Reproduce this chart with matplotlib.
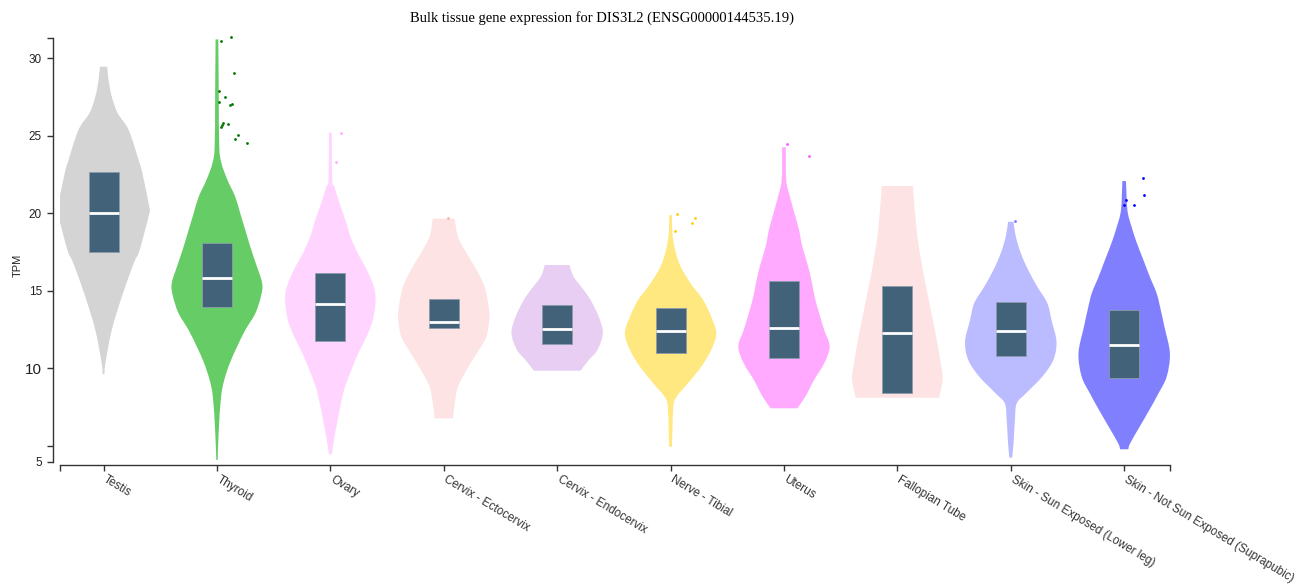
import numpy as np
import matplotlib
matplotlib.use("Agg")
import matplotlib.pyplot as plt
import matplotlib.transforms as mtransforms
from matplotlib.path import Path
from matplotlib.patches import PathPatch

# tissues, left to right
TISSUES = ["Testis", "Thyroid", "Ovary", "Cervix - Ectocervix", "Cervix - Endocervix",
           "Nerve - Tibial", "Uterus", "Fallopian Tube",
           "Skin - Sun Exposed (Lower leg)", "Skin - Not Sun Exposed (Suprapubic)"]

FILL = ["#d4d4d4", "#66cc66", "#ffd4ff", "#fde3e3", "#e8cef3",
        "#ffe880", "#ffaaff", "#fde3e3", "#bbbbff", "#8080ff"]
DOT = ["#888888", "#007700", "#ffaaff", "#ffb0b0", "#cc99dd",
       "#ffcc00", "#ff55ff", "#ffb0b0", "#7777ff", "#0000ff"]

# box stats (TPM)
Q1 = [17.48, 13.94, 11.77, 12.58, 11.55, 10.97, 10.69, 8.39, 10.82, 9.40]
MEDIAN = [19.99, 15.81, 14.15, 12.97, 12.54, 12.40, 12.60, 12.25, 12.38, 11.49]
Q3 = [22.67, 18.06, 16.17, 14.45, 14.07, 13.87, 15.65, 15.33, 14.26, 13.78]

# violin outline: TPM levels and relative density (1 = widest)
VIOLIN_Y = [
    [29.44, 28.58, 27.51, 26.44, 25.36, 23.21, 22.57, 20.42, 19.99, 17.63, 16.77, 14.62, 12.47, 10.33, 9.62],
    [31.20, 27.51, 24.29, 23.21, 22.14, 21.06, 19.99, 18.92, 17.84, 16.77, 15.48, 14.62, 13.55, 12.47, 11.40,
     10.33, 9.25, 8.18, 6.03, 4.10],
    [25.19, 22.14, 21.71, 20.64, 19.56, 18.49, 17.42, 16.34, 15.27, 14.41, 13.12, 12.04, 10.97, 9.90, 8.82,
     7.75, 6.68, 5.60, 4.46],
    [19.65, 18.49, 17.42, 16.34, 15.27, 14.20, 13.33, 12.04, 10.97, 9.90, 8.82, 7.75, 6.78],
    [16.66, 15.91, 15.05, 14.41, 13.33, 12.26, 11.19, 10.54, 9.85],
    [19.88, 18.70, 17.63, 16.56, 15.48, 14.41, 13.33, 12.26, 11.19, 10.11, 9.04, 8.18, 7.54, 5.82, 4.95],
    [24.25, 22.14, 21.07, 19.99, 18.92, 17.85, 16.77, 15.70, 14.63, 13.55, 12.48, 11.41, 10.33, 9.26, 8.19, 7.43],
    [21.75, 18.92, 16.77, 14.63, 12.48, 10.33, 9.26, 8.11],
    [19.45, 18.49, 17.42, 16.34, 15.27, 14.20, 13.12, 11.73, 10.54, 9.47, 8.39, 7.75, 6.68, 5.17, 4.25],
    [22.07, 20.21, 19.14, 18.06, 16.99, 15.91, 14.84, 13.77, 12.69, 10.98, 9.47, 8.39, 7.32, 6.25, 5.17, 4.79],
]
VIOLIN_D = [
    [.08, .11, .18, .31, .55, .79, .85, 1.0, 1.0, .79, .66, .40, .18, .04, .02],
    [.03, .04, .05, .10, .23, .40, .51, .62, .73, .85, .99, .96, .84, .62, .44, .28, .16, .09, .04, .015],
    [.03, .04, .09, .20, .33, .44, .60, .80, .95, .99, .93, .79, .61, .46, .32, .23, .16, .09, .03],
    [.24, .31, .50, .72, .89, .97, 1.0, .93, .72, .50, .31, .24, .20],
    [.27, .36, .58, .73, .91, 1.0, .88, .69, .51],
    [.03, .04, .10, .22, .44, .71, .89, 1.0, .89, .67, .38, .13, .06, .04, .03],
    [.04, .05, .13, .23, .33, .40, .51, .60, .67, .77, .88, 1.0, .88, .66, .47, .29],
    [.34, .42, .53, .67, .82, .95, .99, .91],
    [.06, .11, .22, .38, .58, .80, .89, 1.0, .93, .69, .33, .13, .09, .06, .03],
    [.04, .07, .16, .28, .42, .56, .71, .80, .88, 1.0, .93, .75, .55, .34, .13, .09],
]

# outliers: TPM and horizontal offset from the violin centre
OUT_Y = [
    [],
    [31.1, 31.33, 29.01, 27.89, 27.47, 27.19, 26.95, 27.02, 25.83, 25.57, 25.68, 25.75, 25.02, 24.8, 24.5],
    [25.19, 23.28],
    [19.7],
    [],
    [19.95, 19.67, 19.37, 18.85],
    [24.46, 23.67],
    [],
    [19.49],
    [22.25, 21.19, 20.85, 20.55, 20.55],
]
OUT_DX = [
    [],
    [0.035, 0.127, 0.153, 0.021, 0.071, 0.021, 0.115, 0.13, 0.05, 0.038, 0.044, 0.094, 0.186, 0.156, 0.268],
    [0.091, 0.053],
    [0.038],
    [],
    [0.053, 0.215, 0.192, 0.035],
    [0.03, 0.224],
    [],
    [0.041],
    [0.162, 0.171, 0.018, 0.0, 0.083],
]

BOX_COLOR = "#416278"
HALF_MAX = 0.403
BOX_W = 0.265
YMIN, YMAX = 3.97, 31.29
XMIN, XMAX = -0.384, 9.404


def smooth_side(pts):
    """Cubic bezier segments through the outline points (catmull-rom style)."""
    verts, codes = [], []
    n = len(pts)
    for k in range(n - 1):
        p0 = pts[max(k - 1, 0)]
        p1, p2 = pts[k], pts[k + 1]
        p3 = pts[min(k + 2, n - 1)]
        c1 = p1 + (p2 - p0) / 6.0
        c2 = p2 - (p3 - p1) / 6.0
        verts += [c1, c2, p2]
        codes += [Path.CURVE4] * 3
    return verts, codes


def violin_patch(xc, ys, half, color):
    right = np.column_stack([xc + half, ys])
    left = np.column_stack([xc - half, ys])[::-1]
    verts = [np.array([xc, ys[0]]), right[0]]
    codes = [Path.MOVETO, Path.LINETO]
    v, c = smooth_side(right)
    verts += v
    codes += c
    verts.append(left[0])
    codes.append(Path.LINETO)
    v, c = smooth_side(left)
    verts += v
    codes += c
    verts.append(np.array([xc, ys[0]]))
    codes.append(Path.CLOSEPOLY)
    return PathPatch(Path(np.array(verts), codes), facecolor=color, lw=0, zorder=2)


fig = plt.figure(figsize=(13, 5.88), dpi=100)
ax = fig.add_axes([60 / 1300, 1 - 462 / 588, 1110 / 1300, 424 / 588])

for i, name in enumerate(TISSUES):
    ys = np.array(VIOLIN_Y[i])
    hw = np.array(VIOLIN_D[i]) * HALF_MAX
    ax.add_patch(violin_patch(i, ys, hw, FILL[i]))
    ax.bar(i, Q3[i] - Q1[i], bottom=Q1[i], width=BOX_W, color=BOX_COLOR,
           edgecolor="#8b9cab", linewidth=0.6, zorder=3)
    ax.hlines(MEDIAN[i], i - BOX_W / 2, i + BOX_W / 2, color="white", lw=2, zorder=4)
    if OUT_Y[i]:
        ax.scatter(i + np.array(OUT_DX[i]), OUT_Y[i], s=4, color=DOT[i],
                   lw=0, zorder=4, clip_on=False)

ax.set_xlim(XMIN, XMAX)
ax.set_ylim(YMIN, YMAX)

for side in ("top", "right"):
    ax.spines[side].set_visible(False)
ax.spines["left"].set_position(("outward", 4.8))
ax.spines["bottom"].set_position(("outward", 2.2))
for side in ("left", "bottom"):
    ax.spines[side].set_color("#333333")
    ax.spines[side].set_linewidth(1.0)

# d3 style axis: outer ticks at both ends
ax.set_yticks([YMIN, 5, 10, 15, 20, 25, 30, YMAX])
ax.set_yticklabels(["5", "", "10", "15", "20", "25", "30", ""])
ax.tick_params(axis="y", length=4.3, width=1.0, color="#333333", pad=4,
               labelsize=8.5, labelcolor="#222222")
ax.get_yticklabels()[2].set_fontsize(11)

ax.set_xticks([XMIN] + list(range(len(TISSUES))) + [XMAX])
ax.set_xticklabels([""] + TISSUES + [""])
ax.tick_params(axis="x", length=4.3, width=1.0, color="#333333", pad=1,
               labelsize=8.5, labelcolor="#333333")
shift = mtransforms.ScaledTranslation(4 / 100, -1 / 100, fig.dpi_scale_trans)
for lab in ax.get_xticklabels():
    lab.set_rotation(-31)
    lab.set_rotation_mode("anchor")
    lab.set_ha("left")
    lab.set_va("top")
    lab.set_transform(lab.get_transform() + shift)
for lab in ax.get_xticklabels() + ax.get_yticklabels():
    lab.set_fontfamily("Liberation Sans")

fig.text(18 / 1300, 1 - 265 / 588, "TPM", rotation=90, ha="center", va="center",
         fontsize=8, family="Liberation Sans", color="#222222")
fig.text(602 / 1300, 1 - 18 / 588,
         "Bulk tissue gene expression for DIS3L2 (ENSG00000144535.19)",
         ha="center", va="center", fontsize=10.5, family="Liberation Serif")

fig.savefig("out.png", dpi=100)
